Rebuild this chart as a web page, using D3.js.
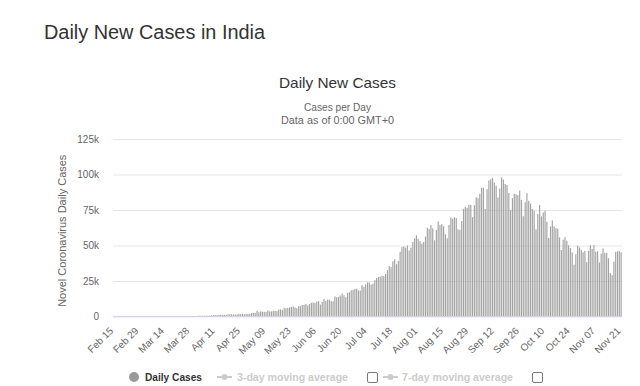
<!DOCTYPE html>
<html>
<head>
<meta charset="utf-8">
<script src="https://cdn.jsdelivr.net/npm/d3@7"></script>
<style>
  body { margin: 0; background: #fff; }
  text { font-family: "Liberation Sans", Arial, sans-serif; }
</style>
</head>
<body>
<div id="chart"></div>
<script>
// daily new cases, Feb 15 - Nov 21 2020, one array per month
var febVals = [0,0,0,0,0,0,0,0,0,0,0,0,0,0,0];
var marVals = [0,2,1,23,2,1,3,5,9,15,8,10,7,18,11,5,23,21,29,50,75,60,100,72,86,88,149,151,100,247,285];
var aprVals = [437,530,563,577,551,703,522,609,823,909,1010,910,1170,1229,955,1178,1074,1576,1565,1540,1333,1503,1373,1836,1660,1997,1568,1902,1801,1913];
var mayVals = [2397,2630,2568,3900,2958,3587,3364,3344,3113,4353,3604,3524,3763,3942,3787,4864,5050,4628,6154,5720,6023,6536,6665,7111,6414,5843,7293,7300,8105,8336,8782];
var junVals = [7761,8821,9633,9889,9471,10438,10864,8442,10218,12375,10956,11929,11837,10883,10667,14154,13551,13829,14740,16293,14899,13540,16573,17122,18456,18757,19428,19612,18255,18256];
var julVals = [21948,20904,22718,24018,24015,22510,23135,25571,27114,27761,28178,28637,28498,29917,32607,35468,34820,38902,40243,36810,39170,45599,48916,49310,48472,49931,46484,48513,52479,55078,57118];
var augVals = [54735,52972,51282,52509,56282,62538,61537,64399,62064,53601,60963,66999,64553,65002,63490,57981,55079,64531,69652,68898,69878,69239,61408,60975,67151,75760,77266,76472,78761,78512,69921];
var sepVals = [78357,83883,83341,86432,90632,90802,75809,89706,95735,96551,97570,94372,92071,83809,90123,97894,96424,93337,92605,86961,75083,83347,86508,86052,85362,88600,82170,70589,80472,86821];
var octVals = [81484,79476,75829,74442,61267,72049,78524,70496,73272,74383,66732,55342,63509,67708,63371,62212,61871,55722,46790,54044,55838,53370,50129,48268,45149,36469,43893,49881,48648,46963,45231];
var novVals = [46254,38310,46253,50210,47638,50357,45674,45903,38073,44281,47905,44879,44684,41100,30548,29163,38617,45576,45882,46232,45209];

var xTickLabels = ["Feb 15","Feb 29","Mar 14","Mar 28","Apr 11","Apr 25","May 09","May 23","Jun 06","Jun 20",
  "Jul 04","Jul 18","Aug 01","Aug 15","Aug 29","Sep 12","Sep 26","Oct 10","Oct 24","Nov 07","Nov 21"];
var yTicks = [0, 25000, 50000, 75000, 100000, 125000];

var dailyCases = [].concat(febVals, marVals, aprVals, mayVals, junVals, julVals, augVals, sepVals, octVals, novVals);
var days = d3.timeDay.range(new Date(2020, 1, 15), new Date(2020, 1, 15 + dailyCases.length));
var fmtDay = d3.timeFormat("%b %d");
var categories = days.map(fmtDay);

var width = 640, height = 386;
var plotLeft = 113, plotRight = 622, plotTop = 139, plotBottom = 316.5;
var titleX = 337.5;

var svg = d3.select("#chart").append("svg")
  .attr("width", width)
  .attr("height", height);

svg.append("text")
  .attr("x", 44).attr("y", 39)
  .attr("font-size", 20).attr("fill", "#333")
  .attr("textLength", 221).attr("lengthAdjust", "spacingAndGlyphs")
  .text("Daily New Cases in India");

svg.append("text")
  .attr("x", titleX).attr("y", 88)
  .attr("text-anchor", "middle")
  .attr("font-size", 15).attr("fill", "#333")
  .attr("textLength", 117).attr("lengthAdjust", "spacingAndGlyphs")
  .text("Daily New Cases");

svg.append("text")
  .attr("x", titleX).attr("y", 111)
  .attr("text-anchor", "middle")
  .attr("font-size", 10.5).attr("fill", "#666")
  .attr("textLength", 67).attr("lengthAdjust", "spacingAndGlyphs")
  .text("Cases per Day");

svg.append("text")
  .attr("x", titleX).attr("y", 123.5)
  .attr("text-anchor", "middle")
  .attr("font-size", 10.5).attr("fill", "#666")
  .attr("textLength", 113).attr("lengthAdjust", "spacingAndGlyphs")
  .text("Data as of 0:00 GMT+0");

var x = d3.scaleBand()
  .domain(categories)
  .range([plotLeft, plotRight])
  .paddingInner(0.35)
  .paddingOuter(0.15);

var y = d3.scaleLinear()
  .domain([0, 125000])
  .range([plotBottom, plotTop]);

// gridlines + y labels
var yAxis = d3.axisLeft(y)
  .tickValues(yTicks)
  .tickSize(-(plotRight - plotLeft))
  .tickPadding(14)
  .tickFormat(function(d) { return d === 0 ? "0" : (d / 1000) + "k"; });

var gy = svg.append("g")
  .attr("transform", "translate(" + plotLeft + ",0)")
  .call(yAxis);
gy.select(".domain").remove();
gy.selectAll(".tick line").attr("stroke", "#e6e6e6");
gy.selectAll(".tick text")
  .attr("font-size", 10).attr("fill", "#666")
  .attr("font-family", "Liberation Sans, Arial, sans-serif");

svg.append("text")
  .attr("transform", "translate(66," + ((plotTop + plotBottom) / 2 + 3) + ") rotate(-90)")
  .attr("text-anchor", "middle")
  .attr("font-size", 11).attr("fill", "#666")
  .text("Novel Coronavirus Daily Cases");

// bars
svg.append("g").selectAll("rect")
  .data(dailyCases)
  .enter()
  .append("rect")
  .attr("x", function(d, i) { return x(categories[i]); })
  .attr("width", x.bandwidth())
  .attr("y", function(d) { return y(d); })
  .attr("height", function(d) { return y(0) - y(d); })
  .attr("fill", "#a3a3a3");

// x axis
var tickCats = xTickLabels.map(function(l, i) { return categories[i * 14]; });
var xAxis = d3.axisBottom(x)
  .tickValues(tickCats)
  .tickSize(0)
  .tickFormat(function(d) { return xTickLabels[tickCats.indexOf(d)]; });

var gx = svg.append("g")
  .attr("transform", "translate(0," + plotBottom + ")")
  .call(xAxis);
gx.select(".domain").attr("stroke", "#ccd6eb").attr("d", "M" + plotLeft + ",0H" + plotRight);
gx.selectAll(".tick text")
  .attr("font-size", 10).attr("fill", "#666")
  .attr("font-family", "Liberation Sans, Arial, sans-serif")
  .attr("text-anchor", "end")
  .attr("dy", null)
  .attr("y", 0)
  .attr("transform", "translate(0,15) rotate(-45)");

// legend
var legend = svg.append("g").attr("class", "legend");
var legendY = 377;

legend.append("circle")
  .attr("cx", 134).attr("cy", legendY).attr("r", 5)
  .attr("fill", "#9a9a9a");
legend.append("text")
  .attr("x", 145).attr("y", legendY + 4)
  .attr("font-size", 10.5).attr("font-weight", "bold").attr("fill", "#333")
  .attr("textLength", 57).attr("lengthAdjust", "spacingAndGlyphs")
  .text("Daily Cases");

var hidden = [
  { label: "3-day moving average", sx: 217, tx: 237, box: 367 },
  { label: "7-day moving average", sx: 383, tx: 402, box: 532 }
];

var hItems = legend.selectAll(".hidden-item")
  .data(hidden)
  .enter()
  .append("g")
  .attr("class", "hidden-item");

hItems.append("line")
  .attr("x1", function(d) { return d.sx; })
  .attr("x2", function(d) { return d.sx + 15; })
  .attr("y1", legendY).attr("y2", legendY)
  .attr("stroke", "#ccc").attr("stroke-width", 2);
hItems.append("circle")
  .attr("cx", function(d) { return d.sx + 7.5; })
  .attr("cy", legendY).attr("r", 3)
  .attr("fill", "#ccc");
hItems.append("text")
  .attr("x", function(d) { return d.tx; })
  .attr("y", legendY + 4)
  .attr("font-size", 10.5).attr("font-weight", "bold").attr("fill", "#ccc")
  .attr("textLength", 111).attr("lengthAdjust", "spacingAndGlyphs")
  .text(function(d) { return d.label; });
hItems.append("rect")
  .attr("x", function(d) { return d.box + 0.5; })
  .attr("y", legendY - 4.5)
  .attr("width", 10).attr("height", 10)
  .attr("rx", 1.5)
  .attr("fill", "#fff")
  .attr("stroke", "#777").attr("stroke-width", 1);
</script>
</body>
</html>
